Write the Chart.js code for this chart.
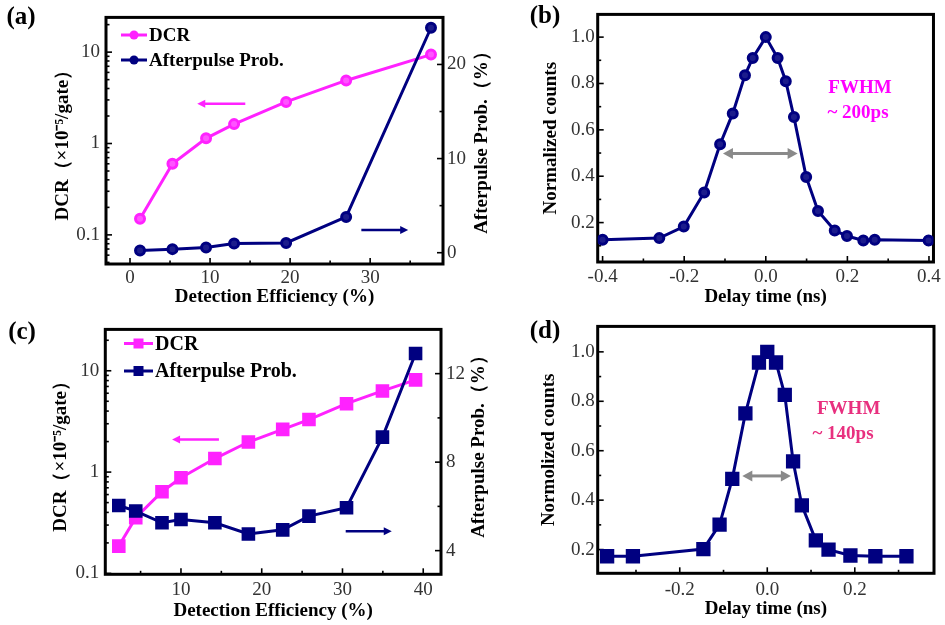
<!DOCTYPE html>
<html>
<head>
<meta charset="utf-8">
<script src="https://cdn.jsdelivr.net/npm/chart.js@4.4.0/dist/chart.umd.min.js"></script>
<style>
  body { margin: 0; background: #fff; }
  #wrap { position: relative; width: 945px; height: 625px; overflow: hidden; }
  canvas { position: absolute; }
</style>
</head>
<body>
<div id="wrap">
  <canvas id="chartA" width="500" height="312" style="left:0;top:0"></canvas>
  <canvas id="chartB" width="445" height="312" style="left:500px;top:0"></canvas>
  <canvas id="chartC" width="500" height="313" style="left:0;top:312px"></canvas>
  <canvas id="chartD" width="445" height="313" style="left:500px;top:312px"></canvas>
</div>
<script>
// panel (a)
const effA = [1.25, 5.3, 9.5, 13.0, 19.5, 27.0, 37.6];
const dcrA = [0.15, 0.6, 1.14, 1.63, 2.85, 4.9, 9.4];
const apA = [0.24, 0.38, 0.55, 0.97, 1.04, 3.8, 23.9];

// panel (b)
const delayB = [-0.4, -0.261, -0.201, -0.151, -0.112, -0.081, -0.051, -0.032, 0, 0.029, 0.049, 0.069, 0.099, 0.128, 0.169, 0.199, 0.239, 0.267, 0.399];
const countsB = [0.126, 0.133, 0.183, 0.33, 0.538, 0.671, 0.836, 0.91, 1.0, 0.91, 0.81, 0.655, 0.397, 0.25, 0.166, 0.142, 0.123, 0.126, 0.123];

// panel (c)
const effC = [2.3, 4.4, 7.65, 10.0, 14.2, 18.35, 22.6, 25.85, 30.5, 34.95, 39.05];
const dcrC = [0.186, 0.355, 0.64, 0.88, 1.36, 1.98, 2.64, 3.3, 4.73, 6.32, 8.13];
const apC = [6.04, 5.79, 5.26, 5.41, 5.26, 4.75, 4.94, 5.56, 5.94, 9.13, 12.91];

// panel (d)
const delayD = [-0.366, -0.307, -0.146, -0.109, -0.08, -0.05, -0.019, 0, 0.02, 0.04, 0.059, 0.079, 0.111, 0.14, 0.19, 0.247, 0.318];
const countsD = [0.173, 0.173, 0.202, 0.301, 0.486, 0.751, 0.957, 1.0, 0.957, 0.826, 0.557, 0.379, 0.237, 0.2, 0.176, 0.173, 0.173];

// tick labels (major) and minor tick marks
const effTicksA = [0, 10, 20, 30], effMinorA = [5, 15, 25, 35];
const dcrTicks = [0.1, 1, 10];
const apTicksA = [0, 10, 20], apMinorA = [5, 15, 25];
const delayTicksB = [-0.4, -0.2, 0, 0.2, 0.4], delayMinorB = [-0.3, -0.1, 0.1, 0.3];
const countTicks = [0.2, 0.4, 0.6, 0.8, 1.0], countMinor = [0.1, 0.3, 0.5, 0.7, 0.9];
const effTicksC = [10, 20, 30, 40], effMinorC = [5, 15, 25, 35];
const apTicksC = [4, 8, 12], apMinorC = [6, 10];
const delayTicksD = [-0.2, 0, 0.2], delayMinorD = [-0.3, -0.1, 0.1, 0.3];

const PINK = '#ff22ff';
const NAVY = '#000080';
const SERIF = "'Liberation Serif', 'Times New Roman', serif";

Chart.defaults.font.family = SERIF;
Chart.defaults.color = '#333';

function logMinors(majors) {
  const out = [];
  [0.01, 0.1, 1, 10].forEach(d => { for (let k = 2; k <= 9; k++) out.push(+(k * d).toPrecision(3)); });
  return out.filter(v => !majors.includes(v));
}

function setTicks(majors, minors) {
  return (scale) => {
    const all = majors.map(v => ({ value: v, major: true }))
      .concat(minors.map(v => ({ value: v, major: false })));
    scale.ticks = all.filter(t => t.value >= scale.min && t.value <= scale.max)
      .sort((p, q) => p.value - q.value);
  };
}

function pts(xs, ys) { return xs.map((x, i) => ({ x: x, y: ys[i] })); }

function axis(o) {
  const s = {
    type: o.type || 'linear',
    position: o.position,
    min: o.min, max: o.max,
    grid: { display: false, drawTicks: false },
    border: { display: false },
    afterBuildTicks: setTicks(o.majors, o.minors),
    afterFit: (sc) => { if (sc.isHorizontal()) sc.height = o.size; else sc.width = o.size; },
    ticks: {
      autoSkip: false, maxRotation: 0, padding: o.pad,
      font: { size: 19 }, color: '#333',
      callback: (v, i, t) => t[i].major ? o.fmt(v) : ''
    },
    title: o.title ? {
      display: true, text: o.title, color: '#000',
      font: { size: 19, weight: 'bold' },
      padding: o.tpad
    } : { display: false }
  };
  if (o.axisId) s.axis = o.axisId;
  return s;
}

function arrowHead(ctx, x, y, dir, len, half) {
  ctx.beginPath();
  ctx.moveTo(x, y);
  ctx.lineTo(x - dir * len, y - half);
  ctx.lineTo(x - dir * len, y + half);
  ctx.closePath();
  ctx.fill();
}

const decor = {
  id: 'decor',
  beforeDatasetsDraw(chart) {
    const { ctx, chartArea: a } = chart;
    ctx.save();
    ctx.strokeStyle = '#000';
    ctx.lineWidth = 1.6;
    Object.values(chart.scales).forEach(s => {
      s.ticks.forEach(t => {
        const p = s.getPixelForValue(t.value);
        const len = t.major ? 6 : 3.5;
        ctx.beginPath();
        if (s.isHorizontal()) { ctx.moveTo(p, a.bottom); ctx.lineTo(p, a.bottom - len); }
        else if (s.position === 'left') { ctx.moveTo(a.left, p); ctx.lineTo(a.left + len, p); }
        else { ctx.moveTo(a.right, p); ctx.lineTo(a.right - len, p); }
        ctx.stroke();
      });
    });
    ctx.lineWidth = 3;
    ctx.strokeRect(a.left, a.top, a.width, a.height);
    ctx.restore();
  },
  afterDatasetsDraw(chart, args, o) {
    const ctx = chart.ctx;
    ctx.save();
    // arrows given in data coordinates
    (o.arrows || []).forEach(ar => {
      const xs = chart.scales.x, ys = chart.scales[ar.yAxis];
      const x1 = xs.getPixelForValue(ar.from), x2 = xs.getPixelForValue(ar.to);
      const y = ys.getPixelForValue(ar.y);
      const dir = Math.sign(x2 - x1);
      ctx.strokeStyle = ar.color; ctx.fillStyle = ar.color; ctx.lineWidth = ar.width;
      ctx.beginPath();
      ctx.moveTo(ar.both ? x1 + dir * ar.head : x1, y);
      ctx.lineTo(x2 - dir * ar.head, y);
      ctx.stroke();
      arrowHead(ctx, x2, y, dir, ar.head + 1, ar.half);
      if (ar.both) arrowHead(ctx, x1, y, -dir, ar.head + 1, ar.half);
    });
    // notes in data coordinates
    (o.notes || []).forEach(n => {
      ctx.fillStyle = n.color;
      ctx.font = 'bold 19px ' + SERIF;
      ctx.textAlign = 'center'; ctx.textBaseline = 'middle';
      ctx.fillText(n.text, chart.scales.x.getPixelForValue(n.x), chart.scales.y.getPixelForValue(n.y));
    });
    // legend
    if (o.legend) {
      const L = o.legend;
      L.items.forEach(it => {
        ctx.strokeStyle = it.color; ctx.fillStyle = it.color; ctx.lineWidth = 3;
        ctx.beginPath(); ctx.moveTo(L.x0, it.y); ctx.lineTo(L.x1, it.y); ctx.stroke();
        const cx = (L.x0 + L.x1) / 2;
        if (it.style === 'rect') ctx.fillRect(cx - it.r, it.y - it.r, 2 * it.r, 2 * it.r);
        else { ctx.beginPath(); ctx.arc(cx, it.y, it.r, 0, 2 * Math.PI); ctx.fill(); }
        ctx.fillStyle = '#000';
        ctx.font = 'bold ' + L.size + 'px ' + SERIF;
        ctx.textAlign = 'left'; ctx.textBaseline = 'middle';
        ctx.fillText(it.text, L.x1 + 2, it.y + 1);
      });
    }
    // right axis title (reads bottom to top)
    if (o.rightTitle) {
      const r = o.rightTitle;
      ctx.translate(r.x, r.y);
      ctx.rotate(-Math.PI / 2);
      ctx.fillStyle = '#000';
      ctx.font = 'bold 19px ' + SERIF;
      ctx.textAlign = 'center'; ctx.textBaseline = 'middle';
      ctx.fillText(r.text, 0, 0);
      ctx.setTransform(1, 0, 0, 1, 0, 0);
    }
    // panel label
    if (o.label) {
      ctx.fillStyle = '#000';
      ctx.font = 'bold 25px ' + SERIF;
      ctx.textAlign = 'center'; ctx.textBaseline = 'middle';
      ctx.fillText(o.label.text, o.label.x, o.label.y);
    }
    ctx.restore();
  }
};
Chart.register(decor);

const fmtInt = v => String(v);
const fmt1 = v => v.toFixed(1);
const fmtLog = v => String(v);
const dcrTitle = 'DCR（×10⁻⁵/gate）';

function base(padding, decorOpts) {
  return {
    responsive: false, animation: false,
    layout: { padding: padding },
    plugins: { legend: { display: false }, tooltip: { enabled: false }, decor: decorOpts }
  };
}

// (a)
new Chart(document.getElementById('chartA'), {
  type: 'line',
  data: {
    datasets: [
      { data: pts(effA, apA), yAxisID: 'yR', borderColor: NAVY, backgroundColor: NAVY,
        borderWidth: 3, pointRadius: 4.5, pointBackgroundColor: '#1c1c8c', pointBorderColor: NAVY },
      { data: pts(effA, dcrA), yAxisID: 'y', borderColor: PINK, backgroundColor: PINK,
        borderWidth: 3, pointRadius: 4.5, pointBackgroundColor: '#ff55ff', pointBorderColor: PINK }
    ]
  },
  options: Object.assign(base({ top: 13, left: 0, right: 0, bottom: 0 }, {
    label: { text: '(a)', x: 21, y: 18 },
    rightTitle: { text: 'Afterpulse Prob.（%）', x: 482, y: 138 },
    arrows: [
      { from: 14.4, to: 8.4, y: 2.73, yAxis: 'y', color: PINK, width: 2.5, head: 7, half: 4 },
      { from: 28.9, to: 34.75, y: 2.4, yAxis: 'yR', color: NAVY, width: 2.5, head: 7, half: 4 }
    ],
    legend: { x0: 121, x1: 147, size: 19, items: [
      { text: 'DCR', y: 35, color: PINK, style: 'circle', r: 4.5 },
      { text: 'Afterpulse Prob.', y: 60, color: NAVY, style: 'circle', r: 4.5 }
    ] }
  }), {
    scales: {
      x: axis({ position: 'bottom', min: -3, max: 39.1, majors: effTicksA, minors: effMinorA,
        fmt: fmtInt, size: 48, pad: 3, title: 'Detection Efficiency (%)', tpad: { top: 0, bottom: 4 } }),
      y: axis({ type: 'logarithmic', position: 'left', min: 0.048, max: 24, majors: dcrTicks,
        minors: logMinors(dcrTicks), fmt: fmtLog, size: 106, pad: 6, title: dcrTitle, tpad: { top: 52, bottom: 0 } }),
      yR: axis({ position: 'right', axisId: 'y', min: -1.2, max: 25, majors: apTicksA, minors: apMinorA,
        fmt: fmtInt, size: 57, pad: 4 })
    }
  })
});

// (b)
new Chart(document.getElementById('chartB'), {
  type: 'line',
  data: {
    datasets: [
      { data: pts(delayB, countsB), borderColor: NAVY, backgroundColor: NAVY,
        borderWidth: 3, pointRadius: 4.5, pointBackgroundColor: '#1c1c8c', pointBorderColor: NAVY }
    ]
  },
  options: Object.assign(base({ top: 12.7, left: 0, right: 10.7, bottom: 0 }, {
    label: { text: '(b)', x: 45, y: 17 },
    arrows: [
      { from: -0.105, to: 0.078, y: 0.498, yAxis: 'y', color: '#8a8a8a', width: 3, head: 9, half: 5.5, both: true }
    ],
    notes: [
      { text: 'FWHM', x: 0.231, y: 0.78, color: '#ff00ff' },
      { text: '~ 200ps', x: 0.226, y: 0.673, color: '#ff00ff' }
    ]
  }), {
    scales: {
      x: axis({ position: 'bottom', min: -0.412, max: 0.411, majors: delayTicksB, minors: delayMinorB,
        fmt: fmt1, size: 50, pad: 4, title: 'Delay time (ns)', tpad: { top: 0, bottom: 4 } }),
      y: axis({ position: 'left', min: 0.03, max: 1.098, majors: countTicks, minors: countMinor,
        fmt: fmt1, size: 97.7, pad: 3, title: 'Normalized counts', tpad: { top: 40, bottom: 0 } })
    }
  })
});

// (c)
new Chart(document.getElementById('chartC'), {
  type: 'line',
  data: {
    datasets: [
      { data: pts(effC, apC), yAxisID: 'yR', borderColor: NAVY, backgroundColor: NAVY,
        borderWidth: 3, pointStyle: 'rect', pointRadius: 7.5, pointBackgroundColor: NAVY, pointBorderColor: NAVY },
      { data: pts(effC, dcrC), yAxisID: 'y', borderColor: PINK, backgroundColor: PINK,
        borderWidth: 3, pointStyle: 'rect', pointRadius: 7.5, pointBackgroundColor: PINK, pointBorderColor: PINK }
    ]
  },
  options: Object.assign(base({ top: 11.3, left: 0, right: 0, bottom: 0 }, {
    label: { text: '(c)', x: 22, y: 21 },
    rightTitle: { text: 'Afterpulse Prob.（%）', x: 479, y: 130 },
    arrows: [
      { from: 14.7, to: 8.9, y: 2.1, yAxis: 'y', color: PINK, width: 2.5, head: 7, half: 4 },
      { from: 30.4, to: 36.1, y: 4.88, yAxis: 'yR', color: NAVY, width: 2.5, head: 7, half: 4 }
    ],
    legend: { x0: 124, x1: 153, size: 20, items: [
      { text: 'DCR', y: 31.5, color: PINK, style: 'rect', r: 5 },
      { text: 'Afterpulse Prob.', y: 59, color: NAVY, style: 'rect', r: 5 }
    ] }
  }), {
    scales: {
      x: axis({ position: 'bottom', min: 0.63, max: 42.2, majors: effTicksC, minors: effMinorC,
        fmt: fmtInt, size: 50.7, pad: 4, title: 'Detection Efficiency (%)', tpad: { top: 0, bottom: 3 } }),
      y: axis({ type: 'logarithmic', position: 'left', min: 0.098, max: 25.6, majors: dcrTicks,
        minors: logMinors(dcrTicks), fmt: fmtLog, size: 105.3, pad: 6, title: dcrTitle, tpad: { top: 50, bottom: 0 } }),
      yR: axis({ position: 'right', axisId: 'y', min: 2.93, max: 14, majors: apTicksC, minors: apMinorC,
        fmt: fmtInt, size: 59, pad: 5 })
    }
  })
});

// (d)
new Chart(document.getElementById('chartD'), {
  type: 'line',
  data: {
    datasets: [
      { data: pts(delayD, countsD), borderColor: NAVY, backgroundColor: NAVY,
        borderWidth: 3, pointStyle: 'rect', pointRadius: 8, pointBackgroundColor: NAVY, pointBorderColor: NAVY }
    ]
  },
  options: Object.assign(base({ top: 11.3, left: 0, right: 10, bottom: 0 }, {
    label: { text: '(d)', x: 45, y: 20 },
    arrows: [
      { from: -0.057, to: 0.054, y: 0.498, yAxis: 'y', color: '#8a8a8a', width: 3, head: 9, half: 5.5, both: true }
    ],
    notes: [
      { text: 'FWHM', x: 0.186, y: 0.768, color: '#e8307f' },
      { text: '~ 140ps', x: 0.173, y: 0.666, color: '#e8307f' }
    ]
  }), {
    scales: {
      x: axis({ position: 'bottom', min: -0.3875, max: 0.381, majors: delayTicksD, minors: delayMinorD,
        fmt: fmt1, size: 51.7, pad: 5, title: 'Delay time (ns)', tpad: { top: 0, bottom: 5 } }),
      y: axis({ position: 'left', min: 0.104, max: 1.103, majors: countTicks, minors: countMinor,
        fmt: fmt1, size: 97.7, pad: 3, title: 'Normolized counts', tpad: { top: 38, bottom: 0 } })
    }
  })
});
</script>
</body>
</html>
